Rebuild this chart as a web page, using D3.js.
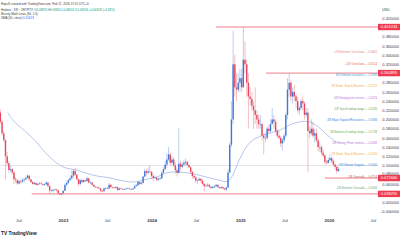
<!DOCTYPE html>
<html>
<head>
<meta charset="utf-8">
<script src="https://cdn.jsdelivr.net/npm/d3@7"></script>
<style>
body { margin: 0; background: #fff; }
svg { display: block; font-family: "Liberation Sans", Arial, sans-serif; }
</style>
</head>
<body>
<svg></svg>
<script>
var width = 400;
var height = 240;

// weekly candles, HBAR/USD, first week starts 2022-04-18
var firstWeek = '2022-04-18';
var firstOpen = 0.215;

var closes = [
	0.195,0.170,0.155,0.120,0.105,0.090,0.092,0.085,0.070,0.068,0.061,
	0.066,0.065,0.068,0.070, 0.073,0.078,0.070,0.064,0.060,
	0.062,0.058,0.060,0.061, 0.060,0.058,0.059,0.063,0.055,
	0.046,0.045,0.047,0.048, 0.046,0.040,0.037,0.039,
	// 2023
	0.045,0.058,0.062,0.068,0.072, 0.078,0.088,0.080,0.070,
	0.060,0.068,0.064,0.068, 0.066,0.072,0.063,0.063,
	0.058,0.054,0.053,0.052,0.050, 0.045,0.044,0.050,0.051,
	0.050,0.058,0.053,0.052,0.051, 0.053,0.047,0.050,0.049,
	0.048,0.049,0.050,0.050, 0.049,0.048,0.050,0.055,0.057,
	0.064,0.060,0.062,0.076, 0.088,0.084,0.087,0.086,
	// 2024
	0.077,0.073,0.074,0.069,0.071, 0.072,0.084,0.092,0.102,
	0.113,0.124,0.106,0.113, 0.100,0.090,0.084,0.104,0.097,
	0.102,0.106,0.108,0.101, 0.096,0.086,0.077,0.074,
	0.067,0.068,0.071,0.067,0.060, 0.055,0.056,0.058,0.054,
	0.051,0.053,0.055,0.058,0.053, 0.051,0.053,0.050,0.048,
	0.052,0.085,0.145,0.200, 0.320,0.270,0.265,0.280,0.290,
	// 2025
	0.270,0.330,0.320,0.280, 0.250,0.245,0.230,0.220,
	0.210,0.200,0.190,0.190,0.165, 0.160,0.160,0.180,0.175,
	0.190,0.200,0.195,0.175, 0.165,0.160,0.148,0.155,0.165,
	0.210,0.265,0.280,0.250, 0.260,0.250,0.240,0.220,
	0.225,0.240,0.235,0.210,0.215, 0.175,0.170,0.180,0.165,
	0.170,0.155,0.140,0.140, 0.128,0.122,0.108,0.106,0.112,
	// 2026
	0.116,0.110,0.102,0.097, 0.088,0.092
];

var highs = [
	0.222,0.200,0.175,0.157,0.130,0.110,0.100,0.095,0.088,0.075,0.070,
	0.069,0.070,0.073,0.072, 0.076,0.081,0.079,0.071,0.066,
	0.065,0.064,0.062,0.064, 0.064,0.061,0.061,0.066,0.064,
	0.057,0.048,0.049,0.050, 0.049,0.047,0.041,0.040,
	0.046,0.061,0.066,0.071,0.079, 0.090,0.092,0.095,0.081,
	0.071,0.070,0.072,0.070, 0.069,0.076,0.073,0.066,
	0.064,0.059,0.055,0.054,0.054, 0.051,0.047,0.052,0.053,
	0.053,0.062,0.060,0.054,0.054, 0.055,0.054,0.051,0.052,
	0.050,0.051,0.051,0.052, 0.052,0.050,0.051,0.057,0.060,
	0.067,0.066,0.065,0.078, 0.093,0.092,0.096,0.101,
	0.088,0.082,0.078,0.075,0.073, 0.075,0.089,0.097,0.110,
	0.126,0.140,0.128,0.120, 0.118,0.107,0.095,0.181,0.110,
	0.108,0.112,0.115,0.111, 0.104,0.098,0.088,0.080,
	0.078,0.070,0.074,0.073,0.069, 0.061,0.060,0.062,0.060,
	0.055,0.055,0.057,0.060,0.059, 0.054,0.055,0.054,0.052,
	0.054,0.092,0.150,0.240, 0.392,0.340,0.300,0.300,0.310,
	0.310,0.401,0.370,0.330, 0.300,0.270,0.260,0.240,
	0.270,0.220,0.210,0.210,0.195, 0.170,0.170,0.185,0.190,
	0.200,0.225,0.210,0.200, 0.180,0.175,0.165,0.160,0.170,
	0.215,0.290,0.300,0.285, 0.270,0.275,0.255,0.250,
	0.230,0.245,0.250,0.240,0.225, 0.225,0.185,0.200,0.195,
	0.180,0.180,0.160,0.150, 0.145,0.135,0.125,0.112,0.118,
	0.124,0.120,0.113,0.105, 0.100,0.097
];

var lows = [
	0.190,0.165,0.150,0.070,0.100,0.085,0.085,0.080,0.060,0.062,0.058,
	0.059,0.060,0.062,0.063, 0.067,0.072,0.067,0.062,0.058,
	0.058,0.057,0.056,0.058, 0.058,0.055,0.056,0.058,0.054,
	0.038,0.043,0.043,0.046, 0.044,0.039,0.036,0.035,
	0.038,0.045,0.055,0.060,0.066, 0.070,0.073,0.077,0.068,
	0.055,0.056,0.062,0.062, 0.064,0.065,0.061,0.060,
	0.056,0.052,0.051,0.050,0.049, 0.042,0.042,0.043,0.048,
	0.048,0.049,0.052,0.050,0.050, 0.050,0.044,0.046,0.047,
	0.047,0.046,0.048,0.049, 0.048,0.046,0.047,0.050,0.054,
	0.056,0.057,0.058,0.061, 0.075,0.078,0.080,0.083,
	0.071,0.066,0.071,0.065,0.067, 0.068,0.071,0.083,0.090,
	0.095,0.110,0.100,0.102, 0.097,0.083,0.076,0.083,0.089,
	0.094,0.098,0.100,0.098, 0.094,0.083,0.071,0.070,
	0.062,0.059,0.066,0.062,0.057, 0.044,0.053,0.054,0.051,
	0.049,0.050,0.051,0.054,0.050, 0.049,0.050,0.048,0.046,
	0.044,0.052,0.083,0.140, 0.190,0.250,0.240,0.260,0.260,
	0.260,0.270,0.300,0.250, 0.180,0.230,0.220,0.180,
	0.190,0.180,0.180,0.180,0.155, 0.125,0.150,0.155,0.170,
	0.170,0.190,0.180,0.170, 0.160,0.155,0.140,0.133,0.150,
	0.160,0.200,0.250,0.240, 0.235,0.240,0.225,0.215,
	0.210,0.220,0.220,0.200,0.205, 0.085,0.160,0.165,0.160,
	0.150,0.150,0.130,0.130, 0.122,0.117,0.103,0.102,0.104,
	0.108,0.105,0.098,0.090, 0.082,0.086
];

// moving average
var maDates = ['2022-05-19','2022-06-08','2022-08-28','2022-11-08','2023-01-01','2023-02-27',
	'2023-05-04','2023-07-13','2023-08-23','2023-10-16','2023-12-12','2024-01-22','2024-03-04',
	'2024-04-15','2024-06-19','2024-08-28','2024-10-08','2024-11-06','2024-11-26','2024-12-30',
	'2025-02-09','2025-04-04','2025-06-13','2025-08-05','2025-09-23','2025-10-22','2025-11-24',
	'2025-12-27','2026-02-02'];
var maValues = [0.215,0.199,0.160,0.118,0.097,0.090,
	0.079,0.073,0.068,0.064,0.070,0.075,0.084,
	0.086,0.082,0.073,0.068,0.065,0.075,0.115,
	0.150,0.166,0.177,0.191,0.196,0.193,0.181,
	0.165,0.150];

// horizontal rays drawn by hand
var rayPrices = [0.401034, 0.300895, 0.072660, 0.038291];
var rayStarts = ['2024-09-22', '2025-04-16', '2025-12-15', '2022-08-25'];

// Murrey Math levels
var murreyNames = ['+2/8 Extreme Overshoot', '+1/8 Overshoot', '8/8 Ultimate resistance',
	'7/8 Weak, Stop & Reverse', '6/8 Strong pivot reverse', '5/8 Top of trading range',
	'4/8 Major Support/Resistance', '3/8 Bottom of trading range', '2/8 Strong, Pivot, reverse',
	'1/8 Weak, Stop & Reverse', '0/8 Ultimate Support', '-1/8 Oversold', '-2/8 Extreme Oversold'];
var murreyValues = [0.3460, 0.3214, 0.2968, 0.2722, 0.2476, 0.2230, 0.1984,
	0.1738, 0.1492, 0.1246, 0.1000, 0.0754, 0.0508];
var murreyColors = ['#ef7f8c', '#f0604d', '#3d9fd0', '#f2a93b', '#c36be0', '#6a9f59', '#2f86e0',
	'#6aae4f', '#b45fd6', '#f2a93b', '#2f86e0', '#b45a5a', '#6aa87c'];

var priceTicks = [0, 0.02, 0.06, 0.08, 0.10, 0.12, 0.14, 0.16, 0.18, 0.20,
	0.22, 0.24, 0.26, 0.28, 0.32, 0.34, 0.36, 0.38, 0.42];

var timeTicks = ['2022-07-01', '2023-01-01', '2023-07-01', '2024-01-01', '2024-07-01',
	'2025-01-01', '2025-07-01', '2026-01-01', '2026-07-01'];
var timeLabels = ['Jul', '2023', 'Jul', '2024', 'Jul', '2025', 'Jul', '2026', 'Jul'];

var parse = d3.utcParse('%Y-%m-%d');
var upColor = '#3d78d8';
var downColor = '#e5485c';
var plotRight = 378;

var svg = d3.select('svg')
	.attr('width', width)
	.attr('height', height);

svg.append('rect')
	.attr('width', width)
	.attr('height', height)
	.attr('fill', '#fff');

var x = d3.scaleUtc()
	.domain([parse('2023-01-01'), parse('2026-01-01')])
	.range([63, 329]);

var y = d3.scaleLinear()
	.domain([0, 0.42])
	.range([211.5, 18.3]);

// 0/8 line
svg.append('line')
	.attr('x1', 0)
	.attr('x2', plotRight)
	.attr('y1', y(0.1))
	.attr('y2', y(0.1))
	.attr('stroke', '#d7dae2')
	.attr('stroke-width', 0.7);

// moving average
var maLine = d3.line()
	.x(function(d, i) { return x(parse(d)); })
	.y(function(d, i) { return y(maValues[i]); })
	.curve(d3.curveCatmullRom.alpha(0.5));

svg.append('path')
	.attr('d', maLine(maDates))
	.attr('fill', 'none')
	.attr('stroke', '#a3b8e6')
	.attr('stroke-width', 0.8);

// candles
var start = parse(firstWeek);
var candles = closes.map(function(c, i) {
	return {
		date: d3.utcDay.offset(start, 7 * i),
		open: i === 0 ? firstOpen : closes[i - 1],
		high: highs[i],
		low: lows[i],
		close: c
	};
});

var cg = svg.append('g');

cg.selectAll('line')
	.data(candles)
	.join('line')
	.attr('x1', function(d) { return x(d.date); })
	.attr('x2', function(d) { return x(d.date); })
	.attr('y1', function(d) { return y(d.high); })
	.attr('y2', function(d) { return y(d.low); })
	.attr('stroke', function(d) { return d.close >= d.open ? upColor : downColor; })
	.attr('stroke-opacity', 0.45)
	.attr('stroke-width', 0.8);

cg.selectAll('rect')
	.data(candles)
	.join('rect')
	.attr('x', function(d) { return x(d.date) - 0.7; })
	.attr('width', 1.4)
	.attr('y', function(d) { return y(Math.max(d.open, d.close)); })
	.attr('height', function(d) { return Math.max(0.6, Math.abs(y(d.open) - y(d.close))); })
	.attr('fill', function(d) { return d.close >= d.open ? upColor : downColor; });

// rays
rayPrices.forEach(function(p, i) {
	svg.append('line')
		.attr('x1', x(parse(rayStarts[i])))
		.attr('x2', plotRight)
		.attr('y1', y(p))
		.attr('y2', y(p))
		.attr('stroke', '#ec6f7c')
		.attr('stroke-width', 0.9);
});

// Murrey labels
svg.append('g')
	.selectAll('text')
	.data(murreyNames)
	.join('text')
	.attr('x', 377)
	.attr('y', function(d, i) { return y(murreyValues[i]); })
	.attr('dy', '0.35em')
	.attr('text-anchor', 'end')
	.attr('font-size', 2.8)
	.attr('fill', function(d, i) { return murreyColors[i]; })
	.text(function(d, i) { return d + ' \u2014 ' + murreyValues[i].toFixed(4); });

// price scale
var yAxis = d3.axisLeft(y)
	.tickValues(priceTicks)
	.tickSize(0)
	.tickPadding(0)
	.tickFormat(function(d) { return d === 0 ? '-0.000000' : d.toFixed(6); });

var ya = svg.append('g')
	.attr('transform', 'translate(399,0)')
	.call(yAxis);
ya.select('.domain').remove();
ya.selectAll('text')
	.attr('font-size', 4)
	.attr('font-family', '"Liberation Sans", Arial, sans-serif')
	.attr('fill', '#3a3d45');
// the 0.08 label sits just above the red 0.072660 tag
ya.selectAll('.tick')
	.filter(function(d) { return d === 0.08; })
	.select('text')
	.attr('dy', '-0.1em');

svg.append('text')
	.attr('x', 382)
	.attr('y', 10.5)
	.attr('font-size', 3.6)
	.attr('fill', '#3a3d45')
	.text('USD');

rayPrices.forEach(function(p) {
	svg.append('rect')
		.attr('x', 378)
		.attr('y', y(p) - 3.2)
		.attr('width', 22)
		.attr('height', 6.4)
		.attr('fill', '#f03a4f');
	svg.append('text')
		.attr('x', 389)
		.attr('y', y(p))
		.attr('dy', '0.35em')
		.attr('text-anchor', 'middle')
		.attr('font-size', 4)
		.attr('fill', '#fff')
		.text(p.toFixed(6));
});

// time scale
var xAxis = d3.axisBottom(x)
	.tickValues(timeTicks.map(parse))
	.tickSize(0)
	.tickPadding(0)
	.tickFormat(function(d, i) { return timeLabels[i]; });

var xa = svg.append('g')
	.attr('transform', 'translate(0,219)')
	.call(xAxis);
xa.select('.domain').remove();
xa.selectAll('text')
	.attr('font-size', 4.4)
	.attr('font-family', '"Liberation Sans", Arial, sans-serif')
	.attr('font-weight', function(d, i) { return timeLabels[i] === 'Jul' ? 'normal' : 'bold'; })
	.attr('fill', '#3a3d45');

// header
var header = svg.append('g')
	.attr('font-size', 3)
	.attr('fill', '#3a3d45');

header.append('text')
	.attr('x', 1)
	.attr('y', 4.5)
	.text('Hapu8 created with TradingView.com, Feb 12, 2026 17:01 UTC+0');

var l2 = header.append('text')
	.attr('x', 1)
	.attr('y', 11);
l2.append('tspan').text('Hedera \u00b7 1W \u00b7 CRYPTO  ');
l2.append('tspan').attr('fill', '#089981').text('O0.08876 H0.09655 L0.08612 C0.09194 +0.00318 (+3.58%)');

header.append('text')
	.attr('x', 1)
	.attr('y', 15)
	.text('Murrey Math Lines (64, 1.5)');

var l4 = header.append('text')
	.attr('x', 1)
	.attr('y', 19);
l4.append('tspan').text('SMA (50, close)  ');
l4.append('tspan').attr('fill', '#2962ff').text('0.15023');

// logo
var logo = svg.append('text')
	.attr('x', 1)
	.attr('y', 235)
	.attr('font-size', 4.8)
	.attr('font-weight', 'bold')
	.attr('fill', '#131722');
logo.append('tspan').text('TV ');
logo.append('tspan').text('TradingView');
</script>
</body>
</html>
